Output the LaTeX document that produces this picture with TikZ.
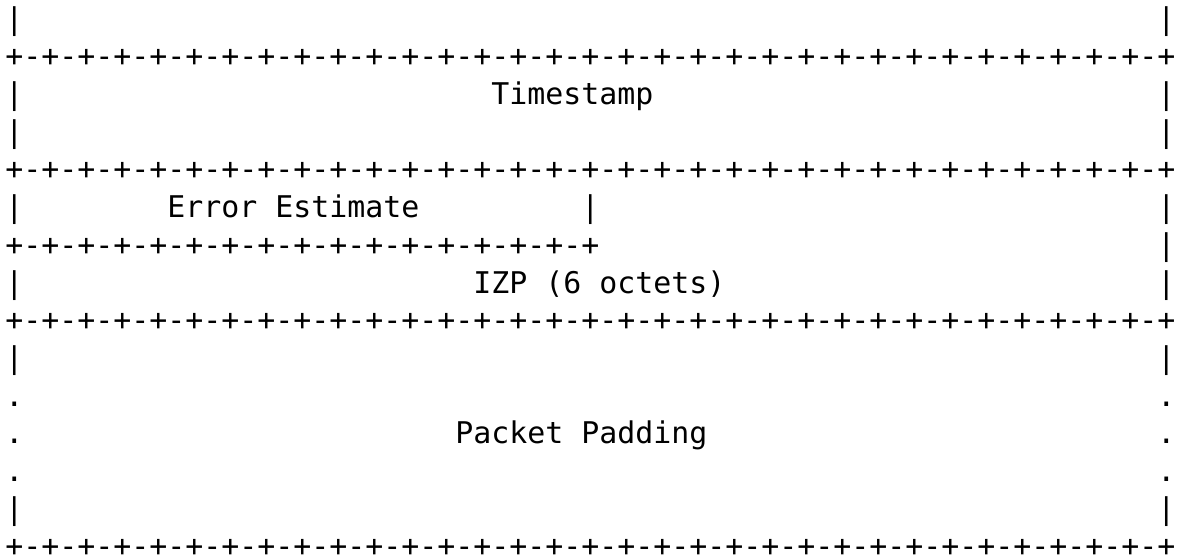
\documentclass[tikz,border=0pt]{standalone}
\usepackage{fontspec}
\usepackage{tikz}
\usetikzlibrary{positioning}
\newfontfamily\asciifont{DejaVu Sans Mono}
\def\pairs{-+-+-+-+-+-+-+-+}
\def\fullrule{+\pairs\pairs\pairs\pairs}
\def\halfrule{+\pairs\pairs}
\tikzstyle{cell}=[anchor=base west,inner sep=0pt,outer sep=0pt,font=\fontsize{14.95}{18}\asciifont]

\begin{document}
\begin{tikzpicture}

  \def\cw{9pt};
  \def\lh{18.85pt};
  \def\xoff{2.65pt};
  \def\yoff{14.55pt};

  \useasboundingbox (0,0) rectangle (591.5pt,-278pt);

  % left and right borders
  \foreach \r/\ch in {0/|, 2/|, 3/|, 5/|, 7/|, 9/|, 10/., 11/., 12/., 13/|}
        \node[cell] (left\r) at ({\xoff}, {-\r*\lh-\yoff}) {\ch};
  \foreach \r/\ch in {0/|, 2/|, 3/|, 5/|, 6/|, 7/|, 9/|, 10/., 11/., 12/., 13/|}
        \node[cell] (right\r) at ({64*\cw+\xoff}, {-\r*\lh-\yoff}) {\ch};

  % field separators
  \foreach \r in {1, 4, 8, 14}
        \node[cell] (rule\r) at ({\xoff}, {-\r*\lh-\yoff}) {\fullrule};
  \node[cell] (rule6) at ({\xoff}, {-6*\lh-\yoff}) {\halfrule};
  \node[cell] (mid5) at ({32*\cw+\xoff}, {-5*\lh-\yoff}) {|};

  % field names
  \foreach \r/\c/\name/\label in {2/27/ts/Timestamp, 5/9/err/Error Estimate, 7/26/izp/IZP (6 octets), 11/25/pad/Packet Padding}
        \node[cell] (\name) at ({\c*\cw+\xoff}, {-\r*\lh-\yoff}) {\label};

\end{tikzpicture}
\end{document}
